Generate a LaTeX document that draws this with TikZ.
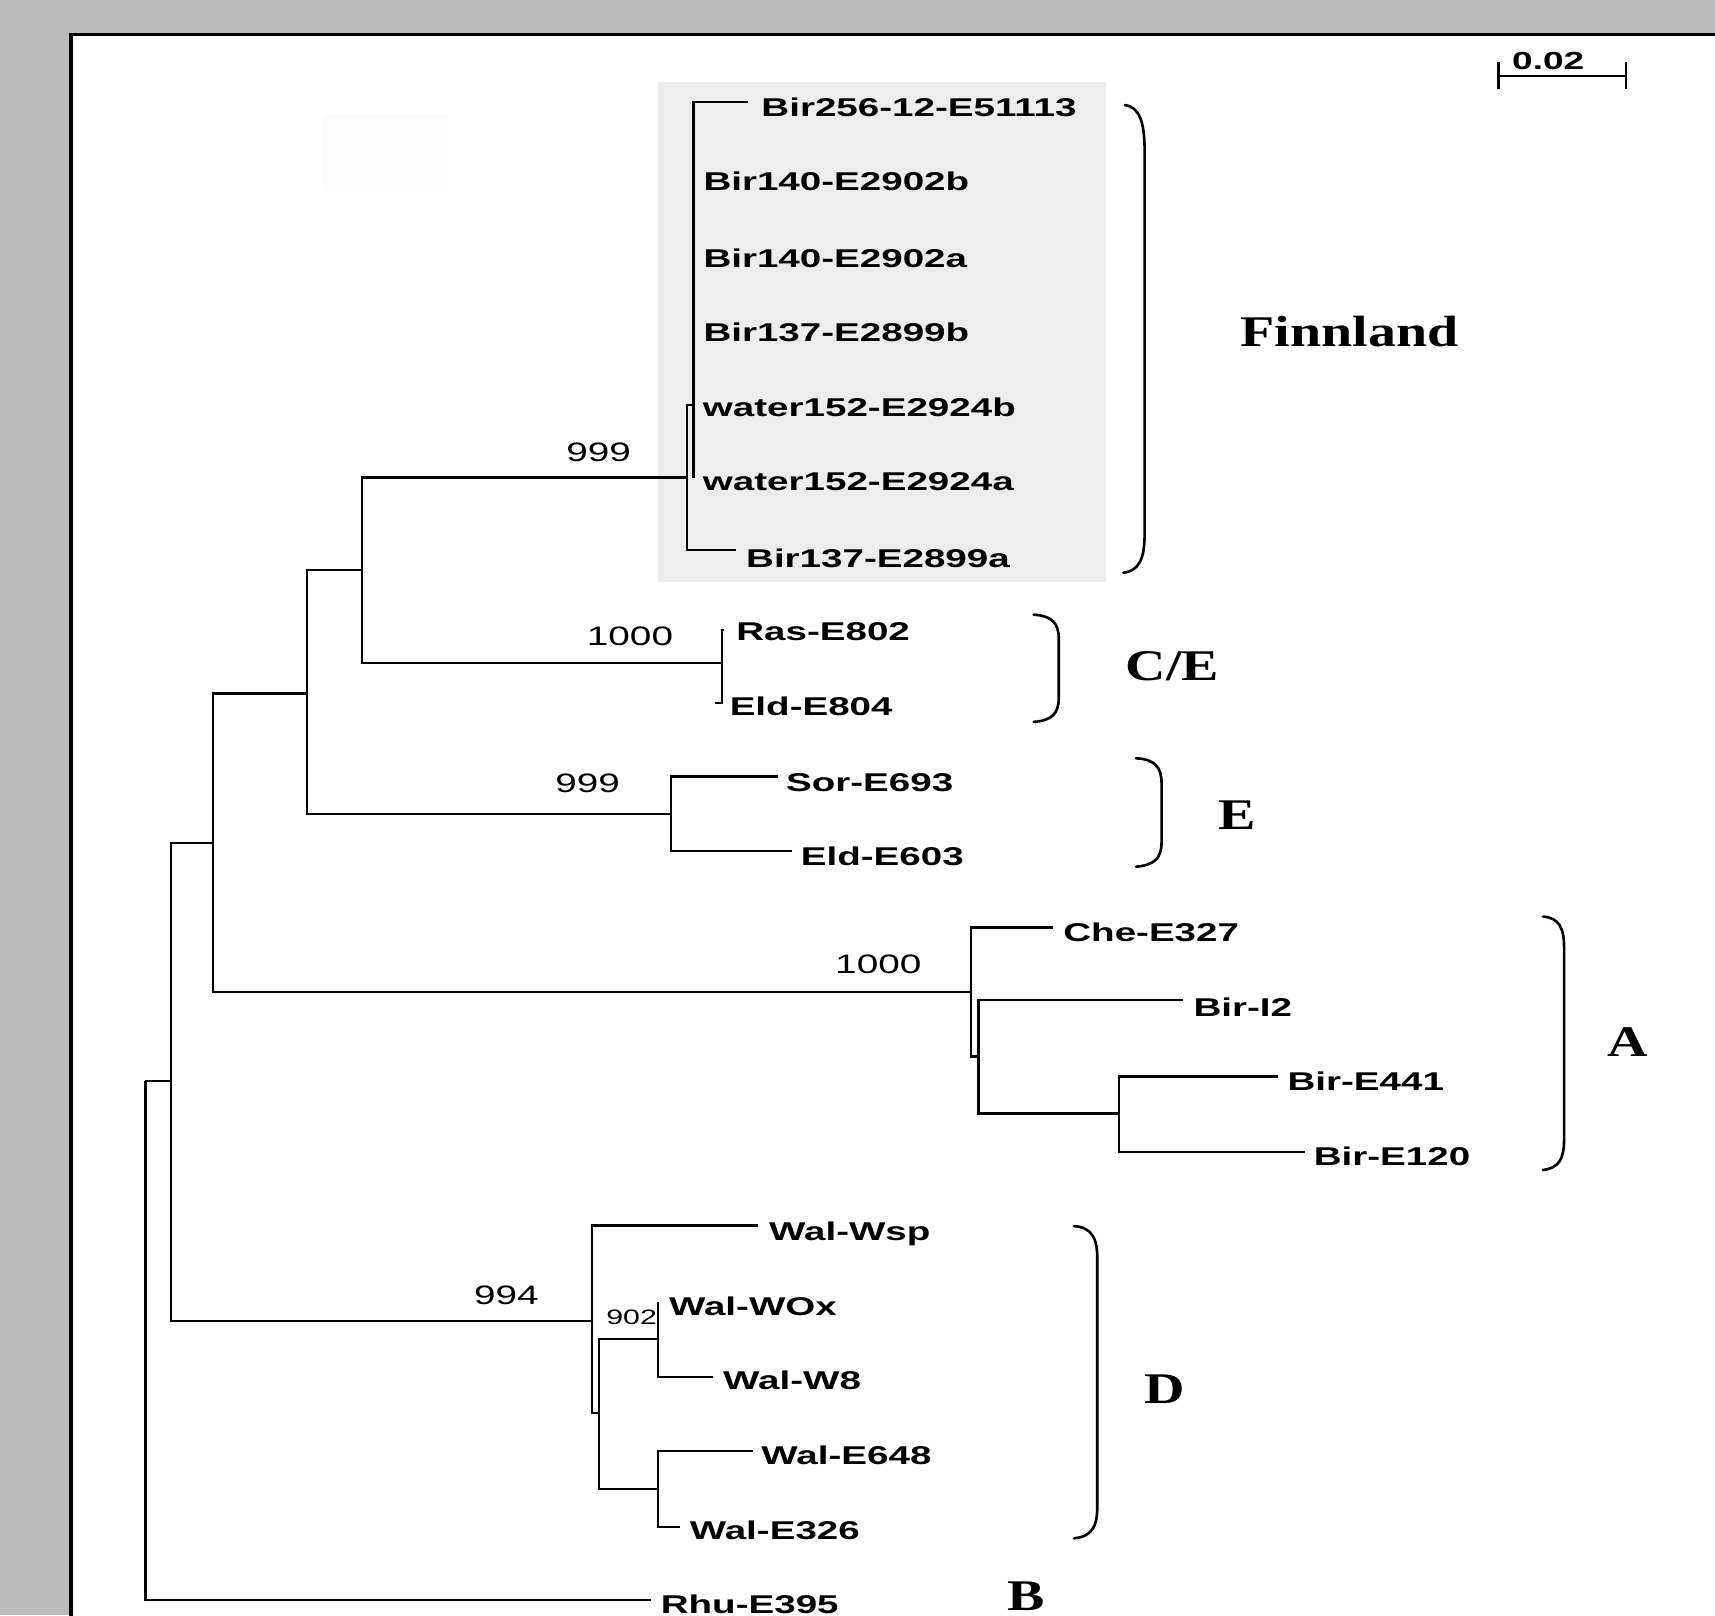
\documentclass[tikz,border=0pt]{standalone}
\usepackage{fontspec}
\newfontfamily\leaffont[FakeStretch=1.5]{Liberation Sans Bold}
\newfontfamily\numfont[FakeStretch=1.45]{Liberation Sans}
\newfontfamily\cladefont[FakeStretch=1.28]{Liberation Serif Bold}
\definecolor{bgcol}{HTML}{BBBBBB}
\definecolor{boxgray}{HTML}{EDEDED}
\definecolor{faintcol}{HTML}{FCFCFC}
\tikzset{
  branch/.style={line width=2pt, line join=miter},
  bracket/.style={line width=2.4pt, line cap=round},
  leaf/.style={anchor=west, inner xsep=0pt, inner ysep=0pt, text height=16.8pt, text depth=0pt,
    font=\leaffont\fontsize{23.5}{28}\selectfont},
  boot/.style={inner sep=0pt, text height=17.5pt, text depth=0pt,
    font=\numfont\fontsize{24.4}{28}\selectfont},
  bootsmall/.style={inner sep=0pt, text height=13.7pt, text depth=0pt,
    font=\numfont\fontsize{19.1}{22}\selectfont},
  clade/.style={inner sep=0pt, text height=26.5pt, text depth=0pt,
    font=\cladefont\fontsize{40}{44}\selectfont},
  scalelab/.style={inner sep=0pt, text height=16.2pt, text depth=0pt,
    font=\leaffont\fontsize{22.6}{26}\selectfont},
}
\begin{document}
\begin{tikzpicture}[x=1pt,y=-1pt]
\useasboundingbox (0,0) rectangle (1568,1477);
% background and panel
\fill[bgcol] (0,0) rectangle (1568,1477);
\fill[white] (65,31.7) rectangle (1568,1477);
\draw[line width=3pt] (65,1480) -- (65,31.7) -- (1570,31.7);
\fill[faintcol] (295,104) rectangle (410,175);
\fill[boxgray] (602,75) rectangle (1011,532);

% internal nodes
\coordinate (R) at (133,988);
\coordinate (N1) at (156.5,988);
\coordinate (N2) at (194.6,771);
\coordinate (N3) at (280.4,634);
\coordinate (N4) at (331,521.5);
\coordinate (F) at (628,436.5);
\coordinate (Fs) at (634,370);
\coordinate (CE) at (659.8,606);
\coordinate (EN) at (613.5,744.4);
\coordinate (AN) at (888,907);
\coordinate (As) at (894.7,966);
\coordinate (As2) at (1022.8,1018);
\coordinate (DN) at (541.5,1208);
\coordinate (Ds) at (547.6,1292);
\coordinate (D9) at (601.3,1224.5);
\coordinate (Ds2) at (601.3,1361.6);

% leaf ends
\coordinate (l1) at (684,93);
\coordinate (l2) at (634,161);
\coordinate (l3) at (634,231);
\coordinate (l4) at (634,299);
\coordinate (l5) at (634,367);
\coordinate (l6) at (634,437);
\coordinate (l7) at (672.6,503);
\coordinate (l8) at (662,576);
\coordinate (l9) at (654,643);
\coordinate (l10) at (711,710);
\coordinate (l11) at (724,778);
\coordinate (l12) at (963,848);
\coordinate (l13) at (1081.6,914);
\coordinate (l14) at (1168.6,984.3);
\coordinate (l15) at (1193,1052.9);
\coordinate (l16) at (693,1120.5);
\coordinate (l17) at (601.3,1190);
\coordinate (l18) at (652,1259);
\coordinate (l19) at (688.6,1326.3);
\coordinate (l20) at (622,1395.8);
\coordinate (l21) at (595,1462.8);

% branches
\draw[branch] (R) |- (N1);
\draw[branch] (R) |- (l21);
\draw[branch] (N1) |- (N2);
\draw[branch] (N1) |- (DN);
\draw[branch] (N2) |- (N3);
\draw[branch] (N2) |- (AN);
\draw[branch] (N3) |- (N4);
\draw[branch] (N3) |- (EN);
\draw[branch] (N4) |- (F);
\draw[branch] (N4) |- (CE);
\draw[branch] (F) |- (Fs);
\draw[branch] (F) |- (l7);
\draw[branch] (Fs) |- (l1);
\draw[branch] (Fs) |- (l2);
\draw[branch] (Fs) |- (l3);
\draw[branch] (Fs) |- (l4);
\draw[branch] (Fs) |- (l5);
\draw[branch] (Fs) |- (l6);
\draw[branch] (CE) |- (l8);
\draw[branch] (CE) |- (l9);
\draw[branch] (EN) |- (l10);
\draw[branch] (EN) |- (l11);
\draw[branch] (AN) |- (l12);
\draw[branch] (AN) |- (As);
\draw[branch] (As) |- (l13);
\draw[branch] (As) |- (As2);
\draw[branch] (As2) |- (l14);
\draw[branch] (As2) |- (l15);
\draw[branch] (DN) |- (l16);
\draw[branch] (DN) |- (Ds);
\draw[branch] (Ds) |- (D9);
\draw[branch] (Ds) |- (Ds2);
\draw[branch] (D9) |- (l17);
\draw[branch] (D9) |- (l18);
\draw[branch] (Ds2) |- (l19);
\draw[branch] (Ds2) |- (l20);

% leaf labels
\node[leaf] (t1) at (696,98.4) {Bir256-12-E51113};
\node[leaf] (t2) at (643,166) {Bir140-E2902b};
\node[leaf] (t3) at (643,236) {Bir140-E2902a};
\node[leaf] (t4) at (643,304) {Bir137-E2899b};
\node[leaf] (t5) at (642.5,372) {water152-E2924b};
\node[leaf] (t6) at (642.5,440) {water152-E2924a};
\node[leaf] (t7) at (682,510) {Bir137-E2899a};
\node[leaf] (t8) at (673,577) {Ras-E802};
\node[leaf] (t9) at (667,646) {Eld-E804};
\node[leaf] (t10) at (718.5,715.5) {Sor-E693};
\node[leaf] (t11) at (732,783) {Eld-E603};
\node[leaf] (t12) at (972,852) {Che-E327};
\node[leaf] (t13) at (1091,921) {Bir-I2};
\node[leaf] (t14) at (1177,988.3) {Bir-E441};
\node[leaf] (t15) at (1201,1057.5) {Bir-E120};
\node[leaf] (t16) at (703,1126) {Wal-Wsp};
\node[leaf] (t17) at (611.5,1194.6) {Wal-WOx};
\node[leaf] (t18) at (661,1261.7) {Wal-W8};
\node[leaf] (t19) at (696,1331) {Wal-E648};
\node[leaf] (t20) at (630.5,1399) {Wal-E326};
\node[leaf] (t21) at (604,1467) {Rhu-E395};

% bootstrap values
\node[boot] (b1) at (547.3,413) {999};
\node[boot] (b2) at (576,581.7) {1000};
\node[boot] (b3) at (537.2,716) {999};
\node[boot] (b4) at (803,881) {1000};
\node[boot] (b5) at (463,1184) {994};
\node[bootsmall] (b6) at (577.5,1204.5) {902};

% brackets
\draw[bracket] (1028.5,96) .. controls (1042,98) and (1046.5,112) .. (1046.5,138)
  -- (1046.5,488) .. controls (1046.5,512) and (1041,522) .. (1027,523.6);
\draw[bracket] (945,562) .. controls (962,563) and (968,570) .. (968,584)
  -- (968,638) .. controls (968,652) and (962,659) .. (945,660);
\draw[bracket] (1038.6,693.3) .. controls (1056,694) and (1062,702) .. (1062,716)
  -- (1062,770) .. controls (1062,784) and (1056,791) .. (1038.6,792.4);
\draw[bracket] (1410.7,838) .. controls (1425,839) and (1430,848) .. (1430,866)
  -- (1430,1042) .. controls (1430,1060) and (1425,1068) .. (1410.7,1069.7);
\draw[bracket] (982,1121) .. controls (998,1122) and (1003.2,1132) .. (1003.2,1150)
  -- (1003.2,1378) .. controls (1003.2,1396) and (998,1405) .. (982,1406.4);

% clade labels
\node[clade] (cF) at (1234,303.5) {Finnland};
\node[clade] (cCE) at (1072,608.7) {C/E};
\node[clade] (cE) at (1131.5,745.4) {E};
\node[clade] (cA) at (1488.5,953) {A};
\node[clade] (cD) at (1065,1270) {D};
\node[clade] (cB) at (938.6,1459) {B};

% scale bar
\coordinate (sb1) at (1370,69.2);
\coordinate (sb2) at (1486.6,69.2);
\draw[line width=2pt] (sb1) -- (sb2);
\draw[line width=2pt] ([yshift=12.8]sb1) -- ([yshift=-12.4]sb1);
\draw[line width=2pt] ([yshift=12.8]sb2) -- ([yshift=-12.4]sb2);
\node[scalelab] (sbl) at (1415.5,55.5) {0.02};
\end{tikzpicture}
\end{document}
